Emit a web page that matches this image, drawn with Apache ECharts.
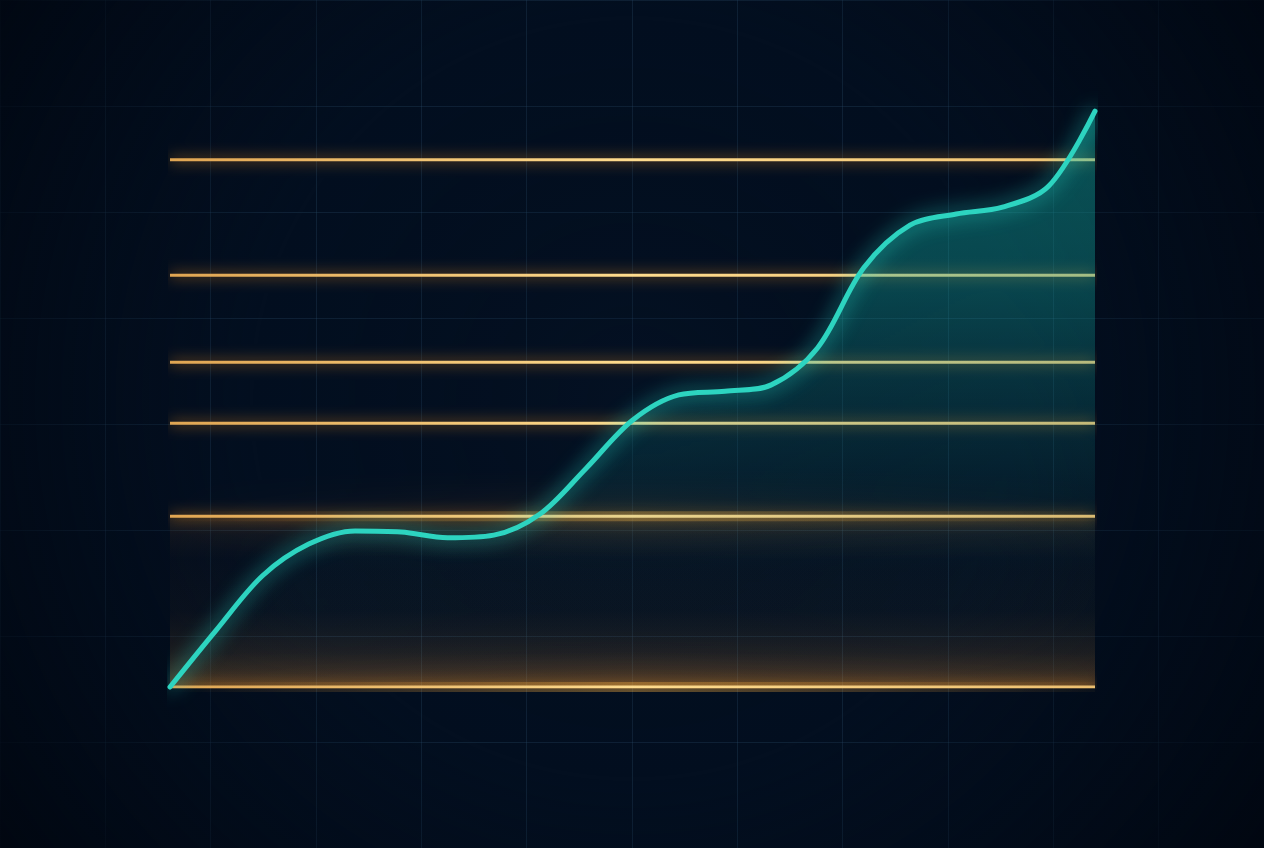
<!DOCTYPE html>
<html><head><meta charset="utf-8">
<script src="https://cdn.jsdelivr.net/npm/echarts@6/dist/echarts.min.js"></script>
<style>html,body{margin:0;padding:0;background:#030f20;}#c{width:1264px;height:848px;}</style>
</head><body><div id="c"></div>
<script>
// Curve samples (x: 0-100 across the plot, y: 0-110)
const curveX = [0, 5, 10, 15, 20, 25, 30, 35, 40, 45, 50, 55, 60, 65, 70, 75, 80, 85, 90, 95, 100];
const curveY = [0, 10.8, 21.1, 27.1, 29.6, 29.4, 28.3, 28.8, 32.8, 41.5, 50.6, 55.4, 56.1, 57.3, 64.3, 79.5, 87.6, 89.7, 91.0, 95.0, 109.2];
// Horizontal gold levels
const levels = [0, 32.4, 50, 61.6, 78.1, 100];
const strongLevels = [0, 32.4];
const band = [0, 32.4];
const xRange = [0, 100];

const chart = echarts.init(document.getElementById('c'));
const G = echarts.graphic;

const goldGrad = new G.LinearGradient(0, 0, 1, 0, [
  {offset: 0, color: '#e0a552'},
  {offset: 0.5, color: '#ffdc8e'},
  {offset: 1, color: '#eec070'}
]);

const series = [];
// band
series.push({
  type: 'line', data: [], silent: true, z: 1,
  markArea: {
    silent: true,
    itemStyle: {color: new G.LinearGradient(0, 0, 0, 1, [
      {offset: 0, color: 'rgba(220,140,50,0.10)'},
      {offset: 0.25, color: 'rgba(180,110,50,0.02)'},
      {offset: 0.55, color: 'rgba(190,120,50,0.035)'},
      {offset: 0.8, color: 'rgba(220,140,55,0.12)'},
      {offset: 1, color: 'rgba(240,150,55,0.28)'}
    ])},
    data: [[{xAxis: xRange[0], yAxis: band[0]}, {xAxis: xRange[1], yAxis: band[1]}]]
  }
});
// glow for strong levels
strongLevels.forEach(v => {
  series.push({
    type: 'line', silent: true, symbol: 'none', z: 3,
    data: [[xRange[0], v], [xRange[1], v]],
    lineStyle: {
      width: 10,
      color: new G.LinearGradient(0, 0, 1, 0, [
        {offset: 0, color: 'rgba(255,170,60,0.0)'},
        {offset: 0.5, color: 'rgba(255,185,70,0.34)'},
        {offset: 1, color: 'rgba(255,170,60,0.03)'}
      ]),
      shadowBlur: 36, shadowColor: 'rgba(255,150,40,1)'
    }
  });
});
levels.forEach(v => {
  series.push({
    type: 'line', silent: true, symbol: 'none', z: 4,
    data: [[xRange[0], v], [xRange[1], v]],
    lineStyle: {width: 3, color: goldGrad, shadowBlur: 14, shadowColor: 'rgba(255,150,30,0.85)', cap: 'butt'}
  });
});
// curve
series.push({
  type: 'line', smooth: 0.33, symbol: 'none', z: 6, clip: false,
  data: curveX.map((x, i) => [x, curveY[i]]),
  lineStyle: {width: 5, color: '#2dd4c0', cap: 'round', join: 'round', shadowBlur: 20, shadowColor: 'rgba(40,230,210,0.85)'},
  areaStyle: {
    color: new G.LinearGradient(0, 0, 0, 1, [
      {offset: 0, color: 'rgba(20,190,175,0.58)'},
      {offset: 0.3, color: 'rgba(20,180,170,0.48)'},
      {offset: 0.6, color: 'rgba(20,150,150,0.22)'},
      {offset: 0.8, color: 'rgba(20,120,130,0.05)'},
      {offset: 1, color: 'rgba(20,110,120,0.02)'}
    ])
  }
});

chart.setOption({
  backgroundColor: 'transparent',
  animation: false,
  graphic: [{
    type: 'rect', silent: true, z: 1,
    shape: {x: 0, y: 0, width: 1264, height: 848},
    style: {fill: new G.RadialGradient(0.5, 0.47, 0.9, [
      {offset: 0, color: 'rgba(8,24,44,0.25)'},
      {offset: 0.5, color: 'rgba(2,10,22,0)'},
      {offset: 1, color: 'rgba(1,7,17,0.95)'}
    ])}
  }],
  grid: [
    {left: 170, top: 107, width: 925, height: 580},
    {left: -5, top: 0, width: 1274.4, height: 848}
  ],
  xAxis: [
    {type: 'value', gridIndex: 0, min: 0, max: 100, show: false},
    {type: 'value', gridIndex: 1, min: 0, max: 12, interval: 1, axisLine: {show: false}, axisTick: {show: false}, axisLabel: {show: false},
     splitLine: {show: true, lineStyle: {color: 'rgba(45,85,115,0.26)', width: 1}}}
  ],
  yAxis: [
    {type: 'value', gridIndex: 0, min: 0, max: 110, show: false},
    {type: 'value', gridIndex: 1, min: 0, max: 8, interval: 1, axisLine: {show: false}, axisTick: {show: false}, axisLabel: {show: false},
     splitLine: {show: true, lineStyle: {color: 'rgba(45,85,115,0.26)', width: 1}}}
  ],
  series: series
});
</script></body></html>
